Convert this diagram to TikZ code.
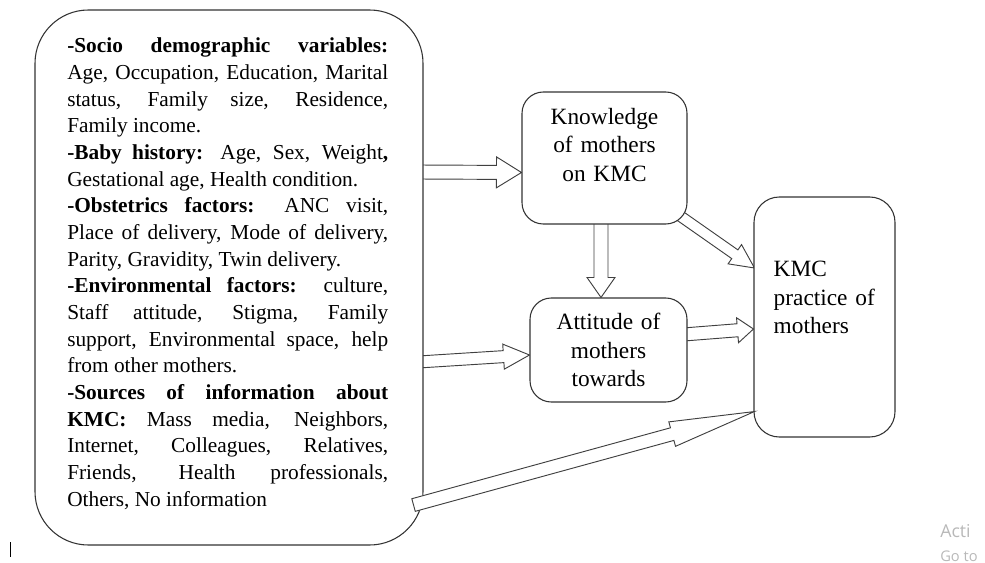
\documentclass[tikz,border=0pt]{standalone}
\usepackage{fontspec}
\setmainfont{Liberation Serif}
\newfontfamily\wmfont{Open Sans}
\usetikzlibrary{calc,backgrounds}

% block arrow: start, tip, shaft half width, head length, head half width
\newcommand{\blockarrow}[5]{%
  \coordinate (ba-h) at ($(#2)!#4!(#1)$);
  \draw[barrow] ($(#1)!#3!90:(#2)$) -- ($(ba-h)!#3!90:(#2)$) -- ($(ba-h)!#5!90:(#2)$)
    -- (#2) -- ($(ba-h)!#5!-90:(#2)$) -- ($(ba-h)!#3!-90:(#2)$) -- ($(#1)!#3!-90:(#2)$) -- cycle;
}

\begin{document}
\begin{tikzpicture}[
  x=0.75pt, y=-0.75pt,
  box/.style={draw=black!80, line width=0.8pt, fill=white, rounded corners=16pt, inner sep=0pt},
  barrow/.style={draw=black!75, line width=0.7pt, fill=white, line join=miter},
  boxtext/.style={inner sep=0pt, font=\fontsize{17.5}{21.4}\selectfont}
  ]
  \useasboundingbox (0,0) rectangle (985,563);

  % Factors
  \node[box, rounded corners=40pt, minimum width=291pt, minimum height=401.25pt] (factors) at (229,277.5) {};
  \node[anchor=base west, inner sep=0pt, text width=240.75pt, align=justify,
        font=\fontsize{16}{20}\selectfont] (factlist) at (67,53) {%
    \hyphenpenalty=10000
    \textbf{-Socio demographic variables:}\linebreak
    Age, Occupation, Education, Marital\linebreak
    status, Family size, Residence,\linebreak
    Family income.\newline
    \textbf{-Baby history:} Age, Sex, Weight\textbf{,}\linebreak
    Gestational age, Health condition.\newline
    \textbf{-Obstetrics factors:} ANC visit,\linebreak
    Place of delivery, Mode of delivery,\linebreak
    Parity, Gravidity, Twin delivery.\newline
    \textbf{-Environmental factors:} culture,\linebreak
    Staff attitude, Stigma, Family\linebreak
    support, Environmental space, help\linebreak
    from other mothers.\newline
    \textbf{-Sources of information about}\linebreak
    \textbf{KMC:} Mass media, Neighbors,\linebreak
    Internet, Colleagues, Relatives,\linebreak
    Friends, Health professionals,\linebreak
    Others, No information};

  % Knowledge, attitude, practice
  \node[box, minimum width=123.75pt, minimum height=99pt] (know) at (604.5,158) {};
  \node[boxtext, text width=112.5pt, align=center, anchor=base] (knowtxt) at ($(know.north)+(0,33)$)
    {Knowledge\\of mothers\\on KMC};
  \node[box, minimum width=117.75pt, minimum height=78pt] (att) at (608.5,350) {};
  \node[boxtext, text width=112.5pt, align=center, anchor=base] (atttxt) at ($(att.north)+(0,32)$)
    {Attitude of\\mothers\\towards};
  \node[box, rounded corners=19pt, minimum width=105.75pt, minimum height=180pt] (kmc) at (824.5,317) {};
  \node[boxtext, text width=90pt, align=left, anchor=base west] (kmctxt) at ($(kmc.north west)+(20,80)$)
    {KMC\\practice of\\mothers};

  % Arrows
  \coordinate (a1s) at ($(factors.east)+(-5,-105.5)$);
  \coordinate (a1e) at ($(know.west)+(0,14.5)$);
  \coordinate (a2s) at ($(know.south)+(-3.5,-4)$);
  \coordinate (a2e) at ($(att.north)+(-7.5,0)$);
  \coordinate (a3s) at ($(know.south east)+(-8,-9)$);
  \coordinate (a3e) at ($(kmc.west)+(1,-49)$);
  \coordinate (a4s) at ($(factors.east)+(-5,84.5)$);
  \coordinate (a4e) at ($(att.west)+(0,5)$);
  \coordinate (a5s) at ($(att.east)+(-4,-15.5)$);
  \coordinate (a5e) at ($(kmc.west)+(0,12)$);
  \coordinate (a6s) at ($(factors.south east)+(-10,-40.5)$);
  \coordinate (a6e) at ($(kmc.south west)+(1,-26)$);
  \begin{pgfonlayer}{background}
    \blockarrow{a1s}{a1e}{5.25pt}{18.75pt}{11.6pt}
    \blockarrow{a2s}{a2e}{5.25pt}{15pt}{10.5pt}
    \blockarrow{a3s}{a3e}{4pt}{18pt}{8.8pt}
    \blockarrow{a4s}{a4e}{4.5pt}{19.5pt}{9.4pt}
    \blockarrow{a5s}{a5e}{4.9pt}{12pt}{9.4pt}
  \end{pgfonlayer}
  \blockarrow{a6s}{a6e}{4.9pt}{64pt}{9.5pt}

  % screen leftovers
  \draw[line width=1.1pt] (10.5,542) -- (10.5,557);
  \node[anchor=base west, inner sep=0pt, text=black!28, font=\wmfont\fontsize{13.3}{16}\selectfont] (wmact) at (940,537) {Acti};
  \node[anchor=base west, inner sep=0pt, text=black!28, font=\wmfont\fontsize{11}{13}\selectfont] (wmgo) at (940,561) {Go to};
\end{tikzpicture}
\end{document}
